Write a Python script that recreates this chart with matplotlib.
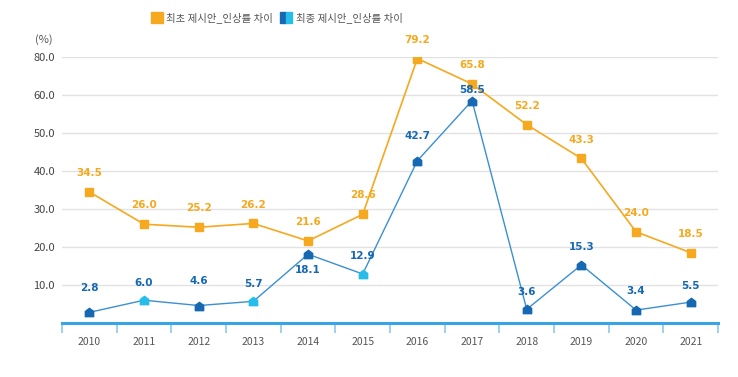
import numpy as np
import matplotlib
matplotlib.use("Agg")
import matplotlib.pyplot as plt
from matplotlib.path import Path

plt.rcParams['font.family'] = ['Noto Sans CJK KR', 'DejaVu Sans']

years = ['2010', '2011', '2012', '2013', '2014', '2015', '2016', '2017', '2018', '2019', '2020', '2021']
first_gap = [34.5, 26.0, 25.2, 26.2, 21.6, 28.6, 79.2, 65.8, 52.2, 43.3, 24.0, 18.5]
final_gap = [2.8, 6.0, 4.6, 5.7, 18.1, 12.9, 42.7, 58.5, 3.6, 15.3, 3.4, 5.5]
series_names = ['최초 제시안_인상률 차이', '최종 제시안_인상률 차이']
ytick_values = [10, 20, 30, 40, 50, 60, 80]

ORANGE = '#f6a81e'
BLUE_LINE = '#3b8fd2'
BLUE_DARK = '#1668b3'
CYAN = '#27bde9'
blue_marker_colors = [BLUE_DARK, CYAN, BLUE_DARK, CYAN, BLUE_DARK, CYAN,
                      BLUE_DARK, BLUE_DARK, BLUE_DARK, BLUE_DARK, BLUE_DARK, BLUE_DARK]
blue_label_dy = [14, 9, 14, 9, 9, 9, 14, 4, 9, 9, 10, 8]
blue_label_below = [False, False, False, False, True, False, False, False, False, False, False, False]

# piecewise y scale: above 60 compressed (top gridline labelled 80.0)
def fwd(v):
    v = np.asarray(v, dtype=float)
    return np.where(v <= 60, v, 60 + (v - 60) / 2.0)

def inv(p):
    p = np.asarray(p, dtype=float)
    return np.where(p <= 60, p, 60 + (p - 60) * 2.0)

house = Path([(-1, -1), (1, -1), (1, 0.25), (0, 1), (-1, 0.25), (-1, -1)],
             [Path.MOVETO, Path.LINETO, Path.LINETO, Path.LINETO, Path.LINETO, Path.CLOSEPOLY])

fig = plt.figure(figsize=(7.38, 3.77), dpi=100)
ax = fig.add_axes([0.084, 0.1432, 0.889, 0.7056])
ax.set_yscale('function', functions=(fwd, inv))
x = np.arange(len(years))

ax.plot(x, first_gap, color=ORANGE, lw=1.2, marker='s', ms=6, mfc=ORANGE, mec=ORANGE, zorder=3)
ax.plot(x, final_gap, color=BLUE_LINE, lw=1.0, zorder=3)
for xi, v, c in zip(x, final_gap, blue_marker_colors):
    ax.plot([xi], [v], marker=house, ms=6, color=c, mec=c, zorder=4, ls='none')

lab_font = dict(fontsize=7.5, family=['Liberation Sans Narrow', 'DejaVu Sans'], fontweight='bold')
for xi, v in zip(x, first_gap):
    ax.annotate(f'{v:.1f}', (xi, v), xytext=(0, 10), textcoords='offset points',
                ha='center', va='bottom', color=ORANGE, **lab_font)
for xi, v, dy, below in zip(x, final_gap, blue_label_dy, blue_label_below):
    if below:
        ax.annotate(f'{v:.1f}', (xi, v), xytext=(0, -8), textcoords='offset points',
                    ha='center', va='top', color=BLUE_DARK, **lab_font)
    else:
        ax.annotate(f'{v:.1f}', (xi, v), xytext=(0, dy), textcoords='offset points',
                    ha='center', va='bottom', color=BLUE_DARK, **lab_font)

ax.set_xlim(-0.5, len(years) - 0.5)
ax.set_ylim(0, 80)
ax.set_yticks(ytick_values)
ax.set_yticklabels([f'{v:.1f}' for v in ytick_values])
ax.tick_params(axis='y', length=0, labelsize=8, labelcolor='#444444', pad=5)
ax.yaxis.grid(True, color='#e2e2e2', lw=1)
ax.set_axisbelow(True)

ax.set_xticks(np.arange(len(years) + 1) - 0.5)
ax.set_xticklabels([])
ax.tick_params(axis='x', which='major', direction='out', length=7, width=1.2, color='#8cc8ee')
ax.set_xticks(x, minor=True)
ax.set_xticklabels(years, minor=True)
ax.tick_params(axis='x', which='minor', length=0, labelsize=7.5, labelcolor='#555555', pad=10)

for s in ['top', 'right', 'left']:
    ax.spines[s].set_visible(False)
ax.spines['bottom'].set_color('#3aa3e3')
ax.spines['bottom'].set_linewidth(2.2)

fig.text(0.047, 0.895, '(%)', fontsize=8, color='#555555', ha='left', va='center')

# legend
ly = 0.953
h = 0.029
dx = 0.014
fig.patches.append(plt.Rectangle((0.190 + dx, ly - h / 2), 0.0165, h, transform=fig.transFigure,
                                 color=ORANGE, figure=fig))
fig.text(0.2115 + dx, ly, series_names[0], fontsize=7.5, color='#555555', ha='left', va='center')
fig.patches.append(plt.Rectangle((0.365 + dx, ly - h / 2), 0.0083, h, transform=fig.transFigure,
                                 color=BLUE_DARK, figure=fig))
fig.patches.append(plt.Rectangle((0.3733 + dx, ly - h / 2), 0.0083, h, transform=fig.transFigure,
                                 color=CYAN, figure=fig))
fig.text(0.387 + dx, ly, series_names[1], fontsize=7.5, color='#555555', ha='left', va='center')

fig.savefig('out.png', dpi=100, facecolor='white')
